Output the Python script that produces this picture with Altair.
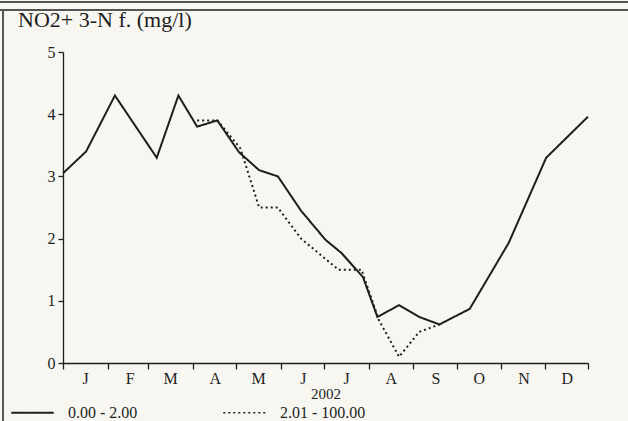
import altair as alt
import pandas as pd

# Solid series (0.00 - 2.00)
solid_dates = ["2002-01-01", "2002-01-17", "2002-02-06", "2002-03-07", "2002-03-22",
               "2002-04-04", "2002-04-18", "2002-05-03", "2002-05-17", "2002-05-30",
               "2002-06-15", "2002-07-02", "2002-07-13", "2002-07-28", "2002-08-07",
               "2002-08-22", "2002-09-05", "2002-09-19", "2002-10-10", "2002-11-06",
               "2002-12-02", "2002-12-31"]
solid_values = [3.05, 3.4, 4.3, 3.3, 4.3,
                3.8, 3.9, 3.39, 3.1, 3.0,
                2.45, 1.98, 1.77, 1.38, 0.74,
                0.93, 0.74, 0.62, 0.87, 1.93,
                3.3, 3.96]

# Dotted series (2.01 - 100.00)
dotted_dates = ["2002-04-04", "2002-04-18", "2002-05-04", "2002-05-17", "2002-05-30",
                "2002-06-15", "2002-07-11", "2002-07-27", "2002-08-08", "2002-08-22",
                "2002-09-05", "2002-09-19"]
dotted_values = [3.9, 3.9, 3.45, 2.5, 2.5,
                 2.0, 1.5, 1.5, 0.69, 0.1,
                 0.5, 0.62]

series_names = ["0.00 - 2.00", "2.01 - 100.00"]
month_letters = ["J", "F", "M", "A", "M", "J", "J", "A", "S", "O", "N", "D"]
y_ticks = [0, 1, 2, 3, 4, 5]
chart_title = "NO2+ 3-N f. (mg/l)"

df = pd.concat([
    pd.DataFrame({"date": solid_dates, "value": solid_values, "series": series_names[0]}),
    pd.DataFrame({"date": dotted_dates, "value": dotted_values, "series": series_names[1]}),
])

FONT = "Liberation Serif"
INK = "#1e1e1e"

month_ticks = [alt.DateTime(year=2002, month=m, date=1, utc=True) for m in range(1, 13)]
month_ticks.append(alt.DateTime(year=2002, month=12, date=31, utc=True))

letters_js = "[" + ",".join("'%s'" % l for l in month_letters) + "]"

lines = alt.Chart(df).mark_line(strokeWidth=2, color=INK).encode(
    x=alt.X("date:T",
            scale=alt.Scale(type="utc",
                            domain=[alt.DateTime(year=2002, month=1, date=1, utc=True),
                                    alt.DateTime(year=2002, month=12, date=31, utc=True)]),
            axis=alt.Axis(values=month_ticks,
                          labelExpr="utcdate(datum.value) > 1 ? '' : " + letters_js + "[utcmonth(datum.value)]",
                          labelOffset=22, labelAlign="center", labelPadding=1,
                          tickSize=6, grid=False, title="2002", titlePadding=0,
                          titleFontWeight="normal")),
    y=alt.Y("value:Q", scale=alt.Scale(domain=[0, 5], nice=False),
            axis=alt.Axis(values=y_ticks, tickSize=5, labelPadding=3, grid=False, title=None)),
    strokeDash=alt.StrokeDash("series:N",
                              scale=alt.Scale(domain=series_names, range=[[1, 0], [2, 3]]),
                              legend=alt.Legend(orient="none", legendX=-53, legendY=338,
                                                direction="horizontal", title=None,
                                                symbolType="stroke", symbolSize=1800,
                                                symbolStrokeColor=INK, symbolStrokeWidth=2,
                                                labelFontSize=16, labelFont=FONT, labelColor=INK,
                                                labelOffset=13, columnPadding=82)),
    strokeWidth=alt.StrokeWidth("series:N",
                                scale=alt.Scale(domain=series_names, range=[2.2, 1.6]),
                                legend=None),
)

frame_top1 = alt.Chart().mark_rule(color="#555555", strokeWidth=2).encode(
    x=alt.value(-63), x2=alt.value(565), y=alt.value(-50))
frame_top2 = alt.Chart().mark_rule(color="#555555", strokeWidth=2).encode(
    x=alt.value(-63), x2=alt.value(565), y=alt.value(-42))
frame_left = alt.Chart().mark_rule(color="#555555", strokeWidth=2).encode(
    x=alt.value(-60), y=alt.value(-42), y2=alt.value(369))

title_text = alt.Chart().mark_text(
    text=chart_title, font=FONT, fontSize=22, color=INK, align="left", baseline="middle"
).encode(x=alt.value(-45), y=alt.value(-32))

chart = alt.layer(frame_top1, frame_top2, frame_left, title_text, lines).properties(
    width=525, height=311,
    autosize=alt.AutoSizeParams(type="none"),
    padding={"left": 63, "top": 52, "right": 40, "bottom": 58},
    background="#f7f6f1",
).configure_view(stroke=None).configure_axis(
    domainColor=INK, tickColor=INK, labelColor=INK, titleColor=INK,
    labelFont=FONT, titleFont=FONT, labelFontSize=16, titleFontSize=15,
    domainWidth=1.3, tickWidth=1.3,
)

chart.save("out.html", embed_options={"renderer": "svg", "actions": False})
